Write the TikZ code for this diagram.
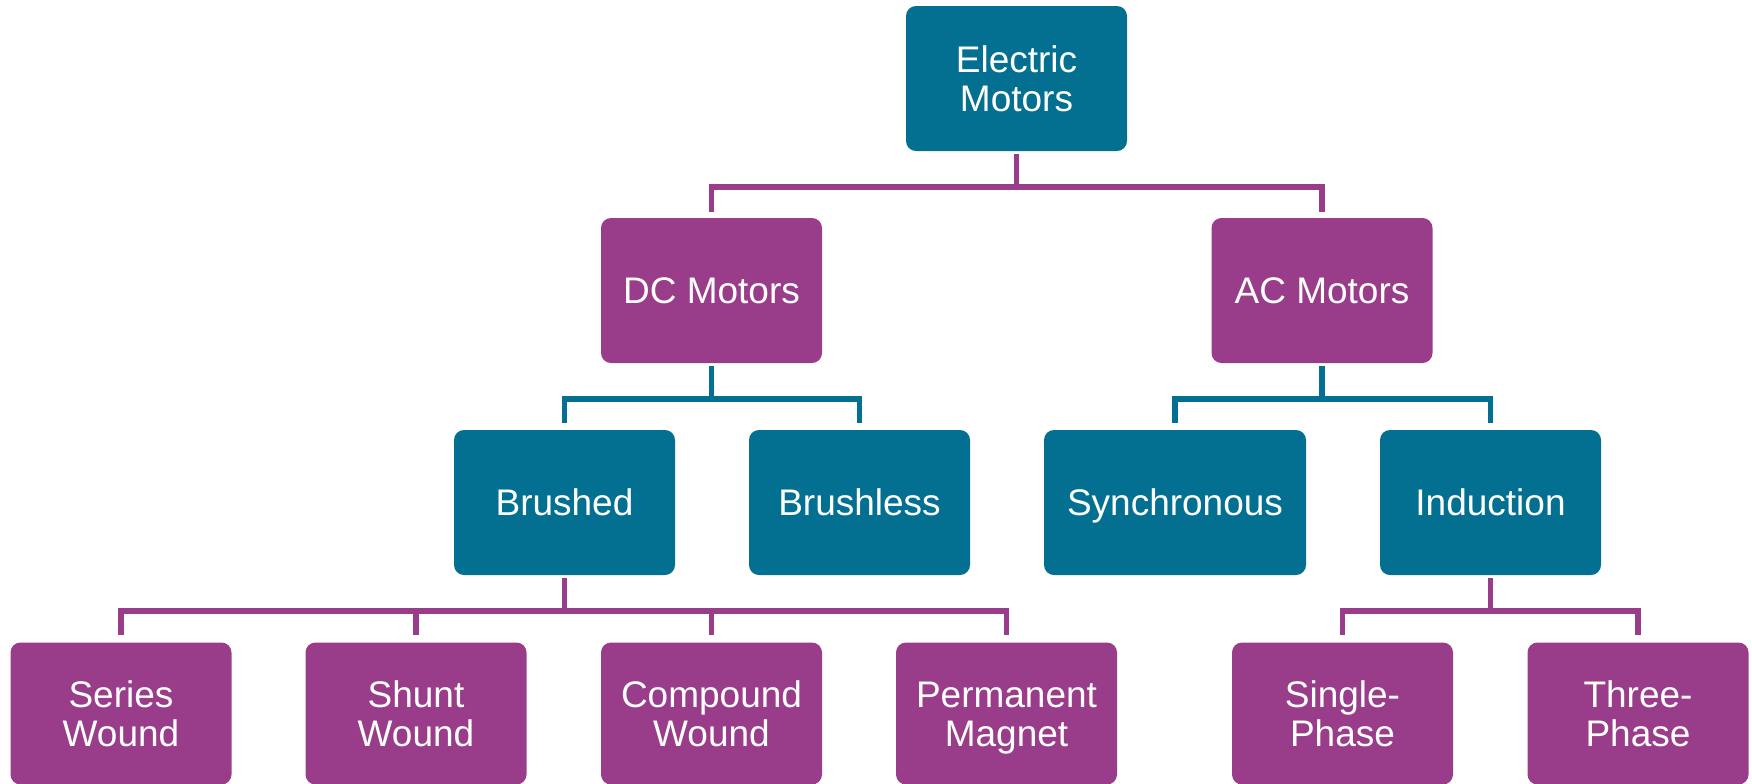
\documentclass[tikz,border=0pt]{standalone}
\usepackage{fontspec}
\setmainfont{Liberation Sans}
\definecolor{teal}{RGB}{3,112,146}
\definecolor{purp}{RGB}{153,61,139}
\newcommand\mystrut{\rule[-4pt]{0pt}{21.25pt}}
\newcommand\boxfont{\fontsize{18.5pt}{19.5pt}\selectfont\lineskiplimit=-100pt\relax}
\tikzset{
  box/.style={rounded corners=5pt, text=white, align=center, inner sep=0pt,
    minimum width=110.5pt, minimum height=72.5pt, font=\boxfont},
  tbox/.style={box, fill=teal},
  pbox/.style={box, fill=purp},
  lowbox/.style={minimum height=71pt},
  conn/.style={line width=2.75pt},
  tconn/.style={conn, draw=teal},
  pconn/.style={conn, draw=purp}
}
\begin{document}
\begin{tikzpicture}[x=0.5pt,y=-0.5pt]
\useasboundingbox (0,0) rectangle (1752,783);
% row 0
\node[tbox] (em) at (1016.5,78.5) {\mystrut Electric\\\mystrut Motors};
% row 1
\node[pbox] (dc) at (711.5,290.5) {\mystrut DC Motors};
\node[pbox] (ac) at (1322,290.5) {\mystrut AC Motors};
% row 2
\node[tbox] (brushed) at (564.5,502.5) {\mystrut Brushed};
\node[tbox] (brushless) at (859.5,502.5) {\mystrut Brushless};
\node[tbox, minimum width=131pt] (sync) at (1175,502.5) {\mystrut Synchronous};
\node[tbox] (ind) at (1490.5,502.5) {\mystrut Induction};
% row 3
\node[pbox,lowbox] (series) at (121,713.5) {\mystrut Series\\\mystrut Wound};
\node[pbox,lowbox] (shunt) at (416,713.5) {\mystrut Shunt\\\mystrut Wound};
\node[pbox,lowbox] (compound) at (711.5,713.5) {\mystrut Compound\\\mystrut Wound};
\node[pbox,lowbox] (perm) at (1006.5,713.5) {\mystrut Permanent\\\mystrut Magnet};
\node[pbox,lowbox] (single) at (1342.5,713.5) {\mystrut Single-\\\mystrut Phase};
\node[pbox,lowbox] (three) at (1638,713.5) {\mystrut Three-\\\mystrut Phase};
% connectors
\foreach \c in {dc,ac}
  \draw[pconn] ([yshift=-1.5pt]em.south) -- ([yshift=-1.5pt]em.south |- 0,184) -| ([yshift=3pt]\c.north);
\foreach \c in {brushed,brushless}
  \draw[tconn] ([yshift=-1.5pt]dc.south) -- ([yshift=-1.5pt]dc.south |- 0,396) -| ([yshift=3.5pt]\c.north);
\foreach \c in {sync,ind}
  \draw[tconn] ([yshift=-1.5pt]ac.south) -- ([yshift=-1.5pt]ac.south |- 0,396) -| ([yshift=3.5pt]\c.north);
\foreach \c in {series,shunt,compound,perm}
  \draw[pconn] ([yshift=-1.5pt]brushed.south) -- ([yshift=-1.5pt]brushed.south |- 0,608) -| ([yshift=3.5pt]\c.north);
\foreach \c in {single,three}
  \draw[pconn] ([yshift=-1.5pt]ind.south) -- ([yshift=-1.5pt]ind.south |- 0,608) -| ([yshift=3.5pt]\c.north);
\end{tikzpicture}
\end{document}
